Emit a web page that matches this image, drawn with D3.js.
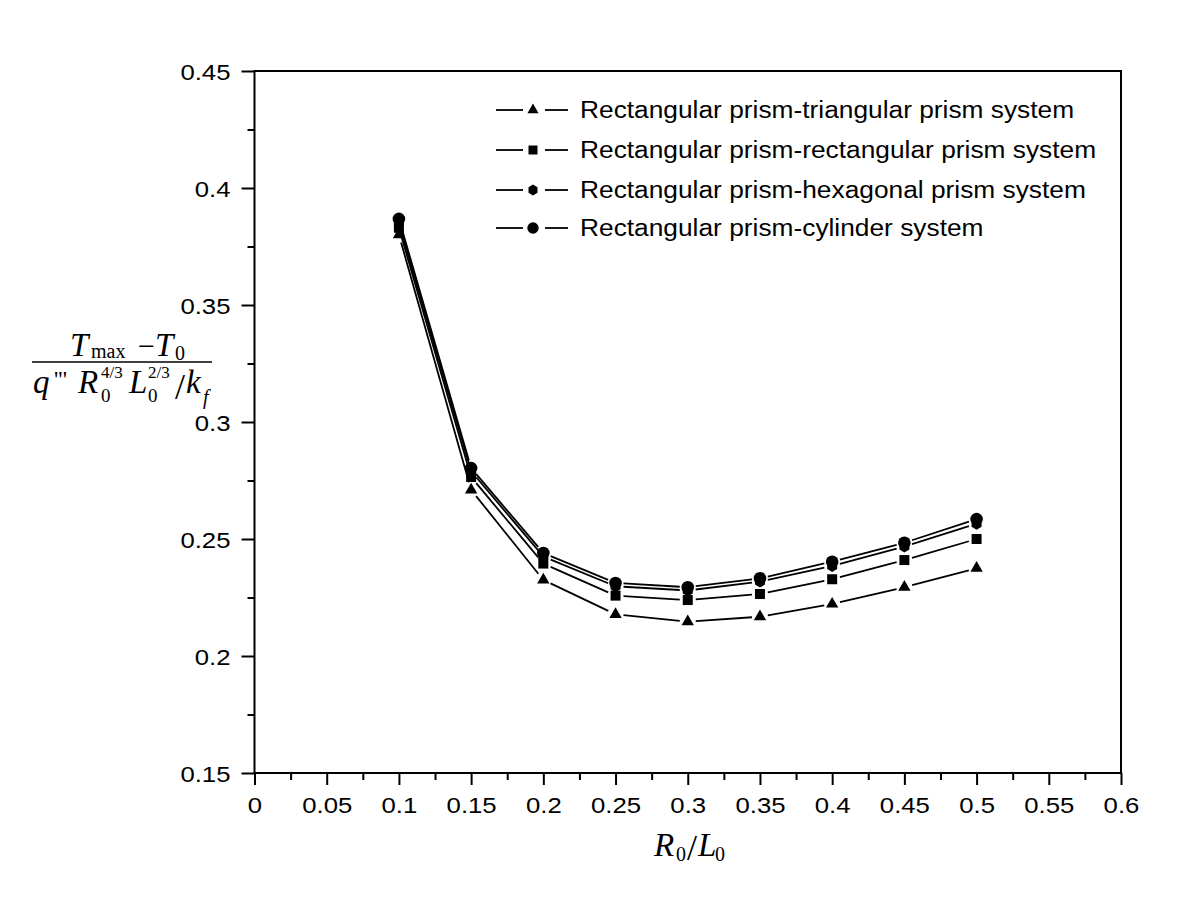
<!DOCTYPE html>
<html>
<head>
<meta charset="utf-8">
<script src="https://cdn.jsdelivr.net/npm/d3@7"></script>
<style>
  body { margin: 0; background: #fff; }
  svg { display: block; }
</style>
</head>
<body>
<svg width="1200" height="916"></svg>
<script>
// data
const ratios = [0.1, 0.15, 0.2, 0.25, 0.3, 0.35, 0.4, 0.45, 0.5];
const triangular = [0.380, 0.2710, 0.2325, 0.2178, 0.2147, 0.2168, 0.2222, 0.2294, 0.2375];
const rectangular = [0.383, 0.2765, 0.2395, 0.2258, 0.2239, 0.2265, 0.2328, 0.2410, 0.2500];
const hexagonal = [0.385, 0.2790, 0.2425, 0.2298, 0.2280, 0.2318, 0.2385, 0.2468, 0.2565];
const cylinder = [0.3868, 0.2803, 0.2440, 0.2312, 0.2294, 0.2332, 0.2403, 0.2484, 0.2585];
const seriesNames = [
  "Rectangular prism-triangular prism system",
  "Rectangular prism-rectangular prism system",
  "Rectangular prism-hexagonal prism system",
  "Rectangular prism-cylinder system"
];
const xTicks = [0, 0.05, 0.1, 0.15, 0.2, 0.25, 0.3, 0.35, 0.4, 0.45, 0.5, 0.55, 0.6];
const yTicks = [0.15, 0.2, 0.25, 0.3, 0.35, 0.4, 0.45];

const svg = d3.select("svg");
const sans = "'Liberation Sans', Arial, sans-serif";
const serif = "'Liberation Serif', 'Times New Roman', serif";
const stretch = 1.12; // the original's sans text is a bit wider than Arial

const x = d3.scaleLinear().domain([0, 0.6]).range([254.5, 1121]);
const y = d3.scaleLinear().domain([0.15, 0.45]).range([773, 71]);

// hexagon marker (pointy top)
function hexPath(w, h) {
  const a = w / 2, b = h / 2;
  return `M0,${-b}L${a},${-b / 2}L${a},${b / 2}L0,${b}L${-a},${b / 2}L${-a},${-b / 2}Z`;
}
const markers = [
  d3.symbol().type(d3.symbolTriangle).size(66)(),
  d3.symbol().type(d3.symbolSquare).size(100)(),
  hexPath(10, 12),
  d3.symbol().type(d3.symbolCircle).size(125)()
];

const series = [triangular, rectangular, hexagonal, cylinder].map((vals, i) => ({
  name: seriesNames[i],
  marker: markers[i],
  points: ratios.map((r, j) => ({ x: r, y: vals[j] }))
}));

// axes frame
svg.append("rect")
  .attr("x", x(0)).attr("y", y(0.45))
  .attr("width", x(0.6) - x(0)).attr("height", y(0.15) - y(0.45))
  .attr("fill", "none").attr("stroke", "#000").attr("stroke-width", 2);

// x axis
const fmt = d => String(+d.toFixed(3));
const xAxis = d3.axisBottom(x).tickValues(xTicks).tickSize(12).tickPadding(12).tickFormat(fmt);
const gx = svg.append("g").attr("transform", `translate(0,${y(0.15)})`).call(xAxis);
const xMinor = d3.axisBottom(x).tickValues(d3.range(0.025, 0.6, 0.05)).tickSize(7).tickFormat("");
const gxm = svg.append("g").attr("transform", `translate(0,${y(0.15)})`).call(xMinor);

// y axis
const yAxis = d3.axisLeft(y).tickValues(yTicks).tickSize(13).tickPadding(11).tickFormat(fmt);
const gy = svg.append("g").attr("transform", `translate(${x(0)},0)`).call(yAxis);
const yMinor = d3.axisLeft(y).tickValues(d3.range(0.175, 0.45, 0.05)).tickSize(7).tickFormat("");
const gym = svg.append("g").attr("transform", `translate(${x(0)},0)`).call(yMinor);

[gx, gxm, gy, gym].forEach(g => {
  g.select(".domain").remove();
  g.selectAll(".tick line").attr("stroke", "#000").attr("stroke-width", 2);
  g.selectAll("text").attr("font-family", sans).attr("font-size", 23).attr("fill", "#000");
});
gx.selectAll(".tick text").attr("transform", `scale(${stretch},1)`);
gy.selectAll(".tick text")
  .attr("dy", "0.36em")
  .attr("x", -24 / stretch)
  .attr("transform", `scale(${stretch},1)`);

// series: segments stop short of markers
const plot = svg.append("g");
const gap = 8;
series.forEach(s => {
  const pts = s.points.map(p => [x(p.x), y(p.y)]);
  d3.pairs(pts).forEach(([a, b]) => {
    const dx = b[0] - a[0], dy = b[1] - a[1];
    const len = Math.hypot(dx, dy);
    const ux = dx / len, uy = dy / len;
    plot.append("line")
      .attr("x1", a[0] + ux * gap).attr("y1", a[1] + uy * gap)
      .attr("x2", b[0] - ux * gap).attr("y2", b[1] - uy * gap)
      .attr("stroke", "#000").attr("stroke-width", 1.8);
  });
});
series.forEach(s => {
  plot.selectAll(null)
    .data(s.points)
    .enter()
    .append("path")
    .attr("d", s.marker)
    .attr("transform", d => `translate(${x(d.x)},${y(d.y)})`)
    .attr("fill", "#000");
});

// legend
const legend = svg.append("g");
const rowY = [110, 150, 190, 228];
series.forEach((s, i) => {
  const row = legend.append("g").attr("transform", `translate(0,${rowY[i]})`);
  row.append("line").attr("x1", 496).attr("x2", 523).attr("y1", 0).attr("y2", 0)
    .attr("stroke", "#000").attr("stroke-width", 1.8);
  row.append("line").attr("x1", 545).attr("x2", 568).attr("y1", 0).attr("y2", 0)
    .attr("stroke", "#000").attr("stroke-width", 1.8);
  row.append("path").attr("d", s.marker).attr("transform", "translate(533,0) scale(0.9)").attr("fill", "#000");
  row.append("text").attr("transform", `translate(580,8) scale(${stretch},1)`)
    .attr("font-family", sans).attr("font-size", 23.5).attr("fill", "#000")
    .text(s.name);
});

// y label: (T_max - T_0) / (q''' R0^(4/3) L0^(2/3) / k_f)
const yl = svg.append("g").attr("font-family", serif).attr("fill", "#000");
function piece(txt, px, py, size, italic) {
  yl.append("text").attr("x", px).attr("y", py).attr("font-size", size)
    .attr("font-style", italic ? "italic" : "normal").text(txt);
}
piece("T", 70, 356, 33, true);
piece("max", 91, 358, 20, false);
piece("\u2212", 138, 356, 30, false);
piece("T", 155, 356, 33, true);
piece("0", 175, 360, 20, false);

yl.append("line").attr("x1", 32).attr("x2", 212).attr("y1", 362).attr("y2", 362)
  .attr("stroke", "#000").attr("stroke-width", 1.6);

piece("q", 33, 393, 33, true);
piece("'''", 54, 387, 24, false);
piece("R", 78, 393, 33, true);
piece("4/3", 101, 378, 17, false);
piece("0", 101, 402, 19, false);
piece("L", 129, 393, 33, true);
piece("2/3", 148, 378, 17, false);
piece("0", 148, 402, 19, false);
piece("/", 175, 399, 36, false);
piece("k", 186, 393, 33, true);
piece("f", 203, 404, 20, true);

// x label: R0 / L0
const xl = svg.append("g").attr("font-family", serif).attr("fill", "#000");
function xpiece(txt, px, py, size, italic) {
  xl.append("text").attr("x", px).attr("y", py).attr("font-size", size)
    .attr("font-style", italic ? "italic" : "normal").text(txt);
}
xpiece("R", 654, 856, 33, true);
xpiece("0", 676, 861, 20, false);
xpiece("/", 687, 860, 36, false);
xpiece("L", 698, 856, 33, true);
xpiece("0", 715, 861, 20, false);
</script>
</body>
</html>
